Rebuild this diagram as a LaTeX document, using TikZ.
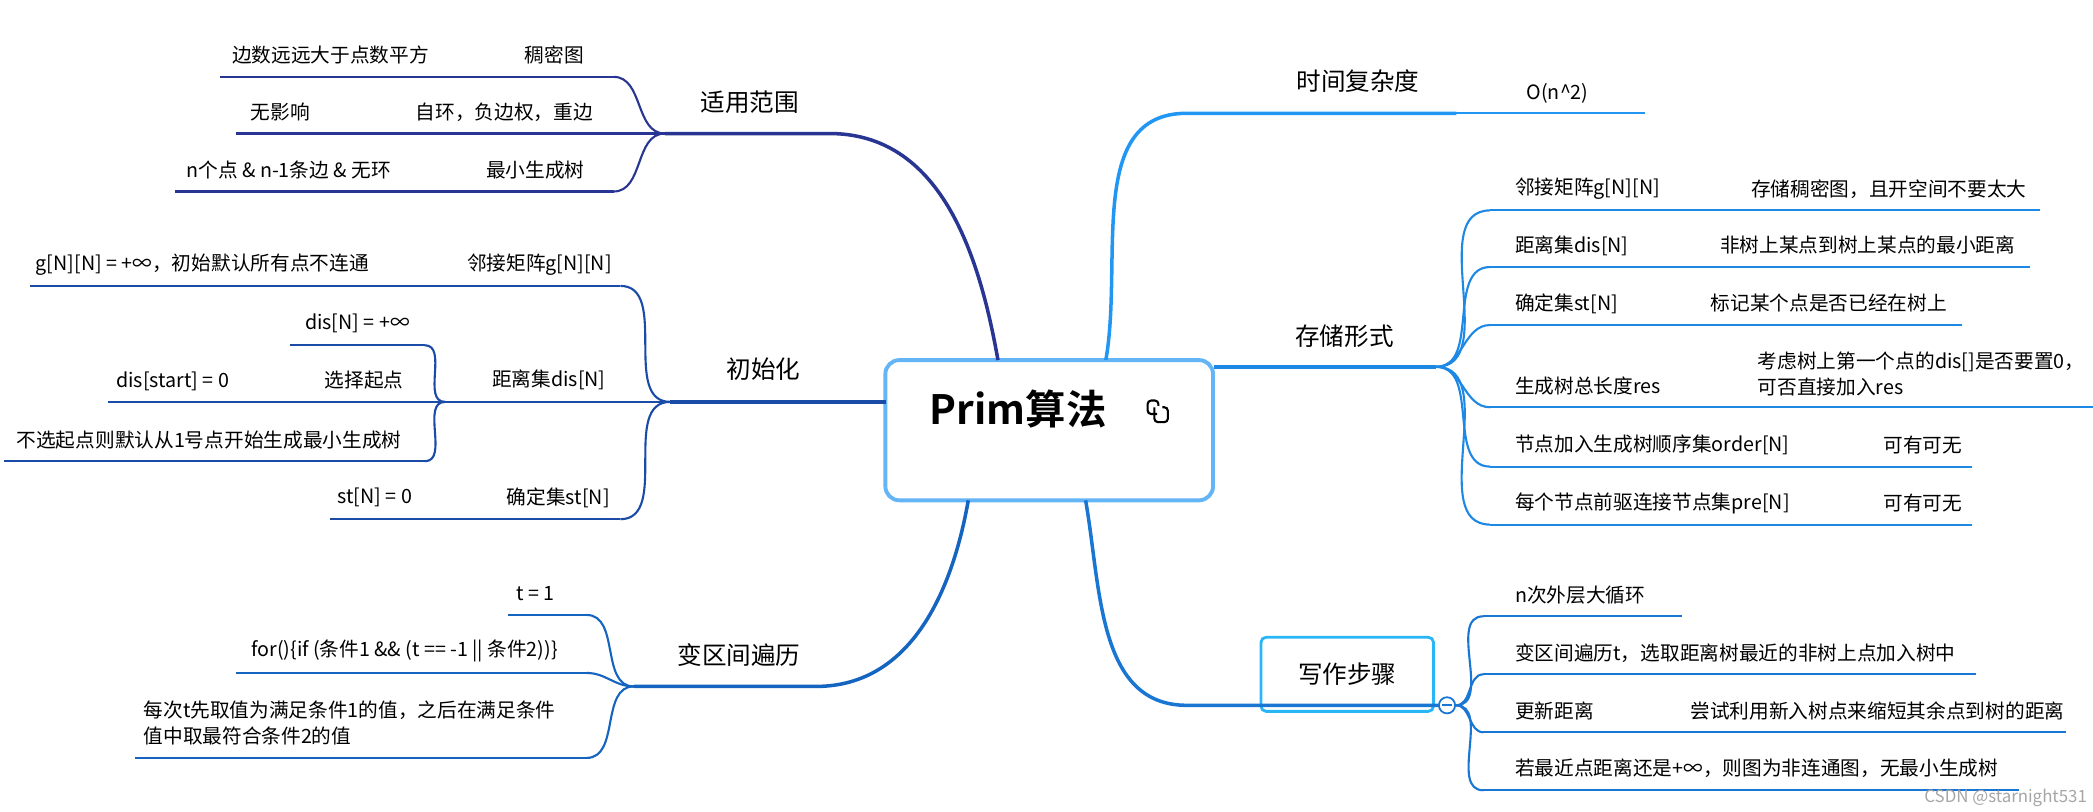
\documentclass[tikz,border=0pt]{standalone}
\usepackage{fontspec}
\setmainfont{Noto Sans CJK SC}[BoldFont={Noto Sans CJK SC Bold}]
\usepackage{tikz}
\usetikzlibrary{positioning,calc}
\definecolor{cA}{HTML}{283593}
\definecolor{cB}{HTML}{1A4BA6}
\definecolor{cC}{HTML}{1565C0}
\definecolor{cD}{HTML}{2196F3}
\definecolor{cE}{HTML}{1E88E5}
\definecolor{cF}{HTML}{1976D2}
\definecolor{boxc}{HTML}{64B5F6}
\definecolor{stepc}{HTML}{29B6F6}

\begin{document}
\begin{tikzpicture}[
    x=0.01349cm, y=-0.01349cm,
    topic/.style={font=\fontsize{7}{8}\selectfont, inner sep=0pt},
    leaf/.style={font=\fontsize{5.6}{7.4}\selectfont, inner sep=0pt},
    main/.style={line width=1pt},
    sub/.style={line width=0.6pt},
    lcurve/.style={sub, out=180, in=0},
    rcurve/.style={sub, out=0, in=180}
]
    \useasboundingbox (0,0) rectangle (1552,602);

    % Centre
    \node[draw=boxc, line width=1.1pt, rounded corners=4pt, minimum width=243*0.01349cm,
          minimum height=104*0.01349cm, fill=white] (root) at (778,319) {};
    \node[font=\fontsize{11.5}{13}\selectfont\bfseries, inner sep=0pt] (rootlbl) at (755,303) {Prim算法};
    \draw[line width=0.6pt, rounded corners=1pt] (858,307) -- (851,307) -- (851,297) -- (859,297) -- (859,301);
    \draw[line width=0.6pt, rounded corners=1pt] (856,302) -- (856,313) -- (866,313) -- (866,302) -- (862,302);

    % 适用范围
    \coordinate (a0) at (740,267);
    \coordinate (a1) at (615,99);
    \coordinate (a2) at (493,99);
    \draw[main, cA] (a0) to[out=100, in=0] (a1) -- (a2);
    \node[topic] (topA) at (556,76) {适用范围};
    \foreach \i/\y/\xl/\tx/\txt/\sx/\stxt in {
        1/57/163/411/稠密图/245/边数远远大于点数平方,
        2/99/175/374/{自环，负边权，重边}/208/无影响,
        3/142/130/397/最小生成树/214/{n个点 \& n-1条边 \& 无环}} {
        \coordinate (aR\i) at (455,\y);
        \coordinate (aL\i) at (\xl,\y);
        \draw[cA, lcurve] (a2) to (aR\i);
        \draw[cA, sub] (aR\i) -- (aL\i);
        \node[leaf] (aT\i) at (\tx,\y-16) {\txt};
        \node[leaf] (aS\i) at (\sx,\y-16) {\stxt};
    }

    % 初始化
    \coordinate (b0) at (657,298);
    \coordinate (b2) at (497,298);
    \draw[main, cB] (b0) -- (b2);
    \node[topic] (topB) at (566,274) {初始化};
    \foreach \i/\y/\xl/\tx/\txt in {1/212/22/400/邻接矩阵g[N][N], 2/298/330/407/距离集dis[N], 3/385/245/414/确定集st[N]} {
        \coordinate (bR\i) at (460,\y);
        \coordinate (bL\i) at (\xl,\y);
        \draw[cB, lcurve] (b2) to (bR\i);
        \draw[cB, sub] (bR\i) -- (bL\i);
        \node[leaf] (bT\i) at (\tx,\y-16) {\txt};
    }
    \node[leaf] (bS1) at (150,196) {g[N][N] = +∞，初始默认所有点不连通};
    \node[leaf] (bS3) at (278,369) {st[N] = 0};
    \foreach \i/\y/\xl/\tx/\txt in {1/256/215/265/{dis[N] = +∞}, 2/298/80/270/选择起点, 3/342/3/155/不选起点则默认从1号点开始生成最小生成树} {
        \coordinate (dR\i) at (315,\y);
        \coordinate (dL\i) at (\xl,\y);
        \draw[cB, lcurve] (bL2) to (dR\i);
        \draw[cB, sub] (dR\i) -- (dL\i);
        \node[leaf] (dT\i) at (\tx,\y-16) {\txt};
    }
    \node[leaf] (dS2) at (128,283) {dis[start] = 0};

    % 变区间遍历
    \coordinate (c0) at (718,371);
    \coordinate (c1) at (605,509);
    \coordinate (c2) at (470,509);
    \draw[main, cC] (c0) to[out=-100, in=0] (c1) -- (c2);
    \node[topic] (topC) at (548,486) {变区间遍历};
    \foreach \i/\y/\xl in {1/456/377, 2/499/175, 3/562/100} {
        \coordinate (cR\i) at (435,\y);
        \coordinate (cL\i) at (\xl,\y);
        \draw[cC, lcurve] (c2) to (cR\i);
        \draw[cC, sub] (cR\i) -- (cL\i);
    }
    \node[leaf] (cT1) at (397,440) {t = 1};
    \node[leaf] (cT2) at (300,483) {for()\{if (条件1 \&\& (t == -1 || 条件2))\}};
    \node[leaf, align=left, anchor=west] (cT3) at (106,536) {每次t先取值为满足条件1的值，之后在满足条件\\值中取最符合条件2的值};

    % 时间复杂度
    \coordinate (e0) at (820,267);
    \coordinate (e1) at (880,84);
    \coordinate (e2) at (1080,84);
    \coordinate (e3) at (1220,84);
    \draw[main, cD] (e0) to[out=80, in=180] (e1) -- (e2);
    \draw[cD, sub] (e2) -- (e3);
    \node[topic] (topE) at (1007,60) {时间复杂度};
    \node[leaf] (eT1) at (1155,69) {O(n\textasciicircum 2)};

    % 存储形式
    \coordinate (f0) at (900,272);
    \coordinate (f2) at (1065,272);
    \draw[main, cE] (f0) -- (f2);
    \node[topic] (topF) at (997,249) {存储形式};
    \foreach \i/\y/\xr/\txt/\sx/\stxt in {
        1/156/1513/邻接矩阵g[N][N]/1298/{存储稠密图，且开空间不要太大},
        2/198/1505/距离集dis[N]/1275/非树上某点到树上某点的最小距离,
        3/241/1455/确定集st[N]/1268/标记某个点是否已经在树上,
        4/302/1552/生成树总长度res/1303/{},
        5/346/1462/节点加入生成树顺序集order[N]/1396/可有可无,
        6/389/1462/每个节点前驱连接节点集pre[N]/1396/可有可无} {
        \coordinate (fL\i) at (1105,\y);
        \coordinate (fR\i) at (\xr,\y);
        \draw[cE, rcurve] (f2) to (fL\i);
        \draw[cE, sub] (fL\i) -- (fR\i);
        \node[leaf, anchor=west] (fT\i) at (1123,\y-16) {\txt};
        \node[leaf, anchor=west] (fS\i) at (\sx,\y-16) {\stxt};
    }
    \node[leaf, anchor=west, align=left] (fS4b) at (1303,277) {考虑树上第一个点的dis[]是否要置0，\\可否直接加入res};

    % 写作步骤
    \coordinate (g0) at (805,371);
    \coordinate (g1) at (880,523);
    \node[draw=stepc, line width=0.8pt, rounded corners=1.5pt, minimum width=128*0.01349cm,
          minimum height=55*0.01349cm, topic] (step) at (999,500) {写作步骤};
    \coordinate (g2) at (1067,523);
    \draw[main, cF] (g0) to[out=-80, in=180] (g1) -- (g2);
    \node[draw=cF, circle, fill=white, line width=0.5pt, minimum size=12*0.01349cm, inner sep=0pt] (fold) at (1073,523) {};
    \draw[cF, line width=0.5pt] ($(fold)+(-3.5,0)$) -- ($(fold)+(3.5,0)$);
    \foreach \i/\y/\xr/\txt in {
        1/457/1247/n次外层大循环,
        2/500/1465/变区间遍历t，选取距离树最近的非树上点加入树中,
        3/543/1532/更新距离,
        4/586/1497/若最近点距离还是+∞，则图为非连通图，无最小生成树} {
        \coordinate (gL\i) at (1100,\y);
        \coordinate (gR\i) at (\xr,\y);
        \draw[cF, rcurve] (fold.east) to (gL\i);
        \draw[cF, sub] (gL\i) -- (gR\i);
        \node[leaf, anchor=west] (gT\i) at (1123,\y-16) {\txt};
    }
    \node[leaf, anchor=west] (gS3) at (1253,527) {尝试利用新入树点来缩短其余点到树的距离};

    \node[font=\fontsize{4.8}{6}\selectfont, text=gray!70, anchor=east, inner sep=0pt] (mark) at (1548,592) {CSDN @starnight531};
\end{tikzpicture}
\end{document}
